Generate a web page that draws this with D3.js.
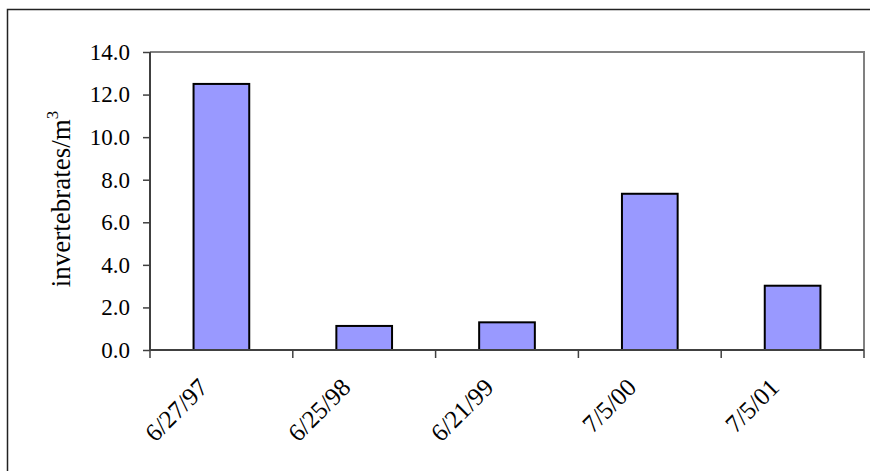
<!DOCTYPE html>
<html><head><meta charset="utf-8">
<script src="https://cdn.jsdelivr.net/npm/d3@7"></script>
<style>body{margin:0;background:#fff;} svg{display:block;}</style>
</head><body>
<svg id="c" width="870" height="471"></svg>
<script>
const categories = ["6/27/97","6/25/98","6/21/99","7/5/00","7/5/01"];
const values = [12.5, 1.13, 1.3, 7.34, 3.02];
const yTicks = [0, 2, 4, 6, 8, 10, 12, 14];
const yLabel = "invertebrates/m";

const svg = d3.select("#c");
const W = 870, H = 471;
const m = {left:150, right:864, top:52, bottom:350};
const font = "'Liberation Serif','Times New Roman',serif";

// outer frame
svg.append("rect").attr("x",7.5).attr("y",9.5).attr("width",W).attr("height",H)
  .attr("fill","none").attr("stroke","#222").attr("stroke-width",1.5);

const x = d3.scaleBand().domain(categories).range([m.left, m.right]).paddingInner(0.61).paddingOuter(0.305);
const y = d3.scaleLinear().domain([0,14]).range([m.bottom, m.top]);

// plot border (top and right) gray
svg.append("path").attr("d",`M${m.left},${m.top}H${m.right}V${m.bottom}`)
  .attr("fill","none").attr("stroke","#808080").attr("stroke-width",2);

// bars
svg.selectAll("rect.bar").data(values).join("rect").attr("class","bar")
  .attr("x",(d,i)=>x(categories[i])).attr("width",x.bandwidth())
  .attr("y",d=>y(d)).attr("height",d=>y(0)-y(d))
  .attr("fill","#9999ff").attr("stroke","#000").attr("stroke-width",2);

// y axis
const yAxis = d3.axisLeft(y).tickValues(yTicks).tickFormat(d3.format(".1f")).tickSize(7).tickPadding(13);
const gy = svg.append("g").attr("transform",`translate(${m.left},0)`).call(yAxis);
gy.select(".domain").attr("stroke","#404040").attr("stroke-width",2).attr("d",`M0,${m.top}V${m.bottom}`);
gy.selectAll(".tick line").attr("stroke","#404040").attr("stroke-width",1.5);
gy.selectAll(".tick text").attr("font-family",font).attr("font-size",23).attr("fill","#000");

// x axis with ticks at category boundaries
const bounds = d3.range(categories.length+1).map(i=>m.left + i*(m.right-m.left)/categories.length);
svg.append("line").attr("x1",m.left).attr("x2",m.right).attr("y1",m.bottom).attr("y2",m.bottom)
  .attr("stroke","#404040").attr("stroke-width",2);
svg.selectAll("line.xt").data(bounds).join("line").attr("class","xt")
  .attr("x1",d=>d).attr("x2",d=>d).attr("y1",m.bottom).attr("y2",m.bottom+8)
  .attr("stroke","#404040").attr("stroke-width",1.5);

svg.selectAll("text.xl").data(categories).join("text").attr("class","xl")
  .attr("transform",d=>`translate(${x(d)+x.bandwidth()/2-12},${389}) rotate(-45)`)
  .attr("text-anchor","end").attr("font-family",font).attr("font-size",25).attr("fill","#000")
  .text(d=>d);

// y label
const yl = svg.append("text").attr("transform",`translate(70,${199}) rotate(-90)`)
  .attr("text-anchor","middle").attr("font-family",font).attr("font-size",27).attr("fill","#000");
yl.append("tspan").text(yLabel);
yl.append("tspan").attr("dy",-12).attr("font-size",17).text("3");
</script>
</body></html>
